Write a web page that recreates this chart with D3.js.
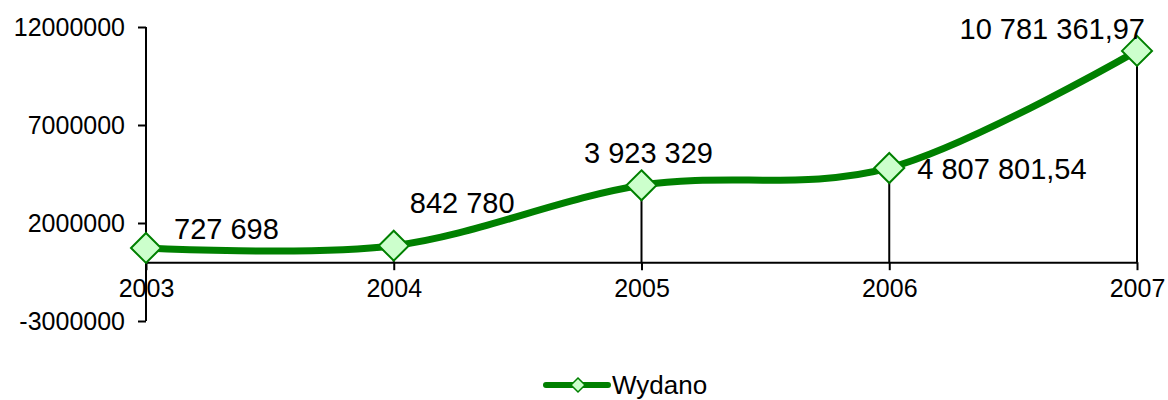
<!DOCTYPE html>
<html>
<head>
<meta charset="utf-8">
<script src="https://cdn.jsdelivr.net/npm/d3@7"></script>
<style>
  body { margin: 0; background: #fff; }
  svg text { font-family: "Liberation Sans", Arial, sans-serif; fill: #000; }
</style>
</head>
<body>
<div id="chart"></div>
<script>
// data
var years = ['2003', '2004', '2005', '2006', '2007'];
var wydano = [727698, 842780, 3923329, 4807801.54, 10781361.97];
var valueLabels = ['727 698', '842 780', '3 923 329', '4 807 801,54', '10 781 361,97'];
var yTicks = [-3000000, 2000000, 7000000, 12000000];
var seriesName = 'Wydano';

// label placement relative to its point (dx, dy, anchor)
var labelPlace = [
  {dx: 28, dy: -9, anchor: 'start'},
  {dx: 16, dy: -33, anchor: 'start'},
  {dx: 7, dy: -22, anchor: 'middle'},
  {dx: 28, dy: 11, anchor: 'start'},
  {dx: 8, dy: -12, anchor: 'end'}
];

var width = 1168, height = 400;
var green = '#008000';

var svg = d3.select('#chart').append('svg')
  .attr('width', width).attr('height', height);

var x = d3.scalePoint().domain(years).range([146, 1137]);
var y = d3.scaleLinear().domain([-3000000, 12000000]).range([321, 27]);

// y axis (plain hyphen for negatives, like the original)
var yAxis = svg.append('g')
  .attr('transform', 'translate(146,0)')
  .call(d3.axisLeft(y).tickValues(yTicks).tickSize(8).tickFormat(function(d) { return String(d); }));
yAxis.select('.domain').attr('stroke', '#000').attr('stroke-width', 2).attr('d', 'M0,' + y(12000000) + 'V' + y(-3000000));
yAxis.selectAll('.tick line').attr('stroke', '#000').attr('stroke-width', 2);
yAxis.selectAll('.tick text').attr('x', -21).attr('font-size', 25).attr('font-family', '"Liberation Sans", Arial, sans-serif');

// x axis at zero
var xAxis = svg.append('g')
  .attr('transform', 'translate(0,' + y(0) + ')')
  .call(d3.axisBottom(x).tickSize(8).tickSizeOuter(0));
xAxis.select('.domain').attr('stroke', '#000').attr('stroke-width', 2);
xAxis.selectAll('.tick line').attr('stroke', '#000').attr('stroke-width', 2);
xAxis.selectAll('.tick text').attr('y', 28).attr('dy', 0).attr('font-size', 25)
  .attr('font-family', '"Liberation Sans", Arial, sans-serif')
  .attr('dominant-baseline', 'middle');

var pts = years.map(function(d, i) { return {year: d, value: wydano[i], label: valueLabels[i], place: labelPlace[i]}; });

// drop lines
svg.append('g').selectAll('line')
  .data(pts)
  .enter()
  .append('line')
  .attr('x1', function(d) { return x(d.year); })
  .attr('x2', function(d) { return x(d.year); })
  .attr('y1', function(d) { return y(d.value); })
  .attr('y2', y(0))
  .attr('stroke', '#000')
  .attr('stroke-width', 2);

// smoothed line
var line = d3.line()
  .x(function(d) { return x(d.year); })
  .y(function(d) { return y(d.value); })
  .curve(d3.curveCardinal.tension(0));

svg.append('path')
  .datum(pts)
  .attr('d', line)
  .attr('fill', 'none')
  .attr('stroke', green)
  .attr('stroke-width', 7)
  .attr('stroke-linejoin', 'round');

// markers
var diamond = function(cx, cy, r) {
  return 'M' + cx + ',' + (cy - r) + 'L' + (cx + r) + ',' + cy + 'L' + cx + ',' + (cy + r) + 'L' + (cx - r) + ',' + cy + 'Z';
};
svg.append('g').selectAll('path')
  .data(pts)
  .enter()
  .append('path')
  .attr('d', function(d) { return diamond(x(d.year), y(d.value), 15); })
  .attr('fill', '#ccffcc')
  .attr('stroke', green)
  .attr('stroke-width', 2);

// value labels
svg.append('g').selectAll('text')
  .data(pts)
  .enter()
  .append('text')
  .attr('x', function(d) { return x(d.year) + d.place.dx; })
  .attr('y', function(d) { return y(d.value) + d.place.dy; })
  .attr('text-anchor', function(d) { return d.place.anchor; })
  .attr('font-size', 29)
  .text(function(d) { return d.label; });

// legend
var lg = svg.append('g').attr('transform', 'translate(546,385)');
lg.append('line').attr('x1', 0).attr('x2', 62).attr('y1', 0).attr('y2', 0)
  .attr('stroke', green).attr('stroke-width', 6).attr('stroke-linecap', 'round');
lg.append('path').attr('d', diamond(32, 0, 7))
  .attr('fill', '#ccffcc').attr('stroke', green).attr('stroke-width', 1.5);
lg.append('text').attr('x', 66).attr('y', 9).attr('font-size', 26).text(seriesName);
</script>
</body>
</html>
